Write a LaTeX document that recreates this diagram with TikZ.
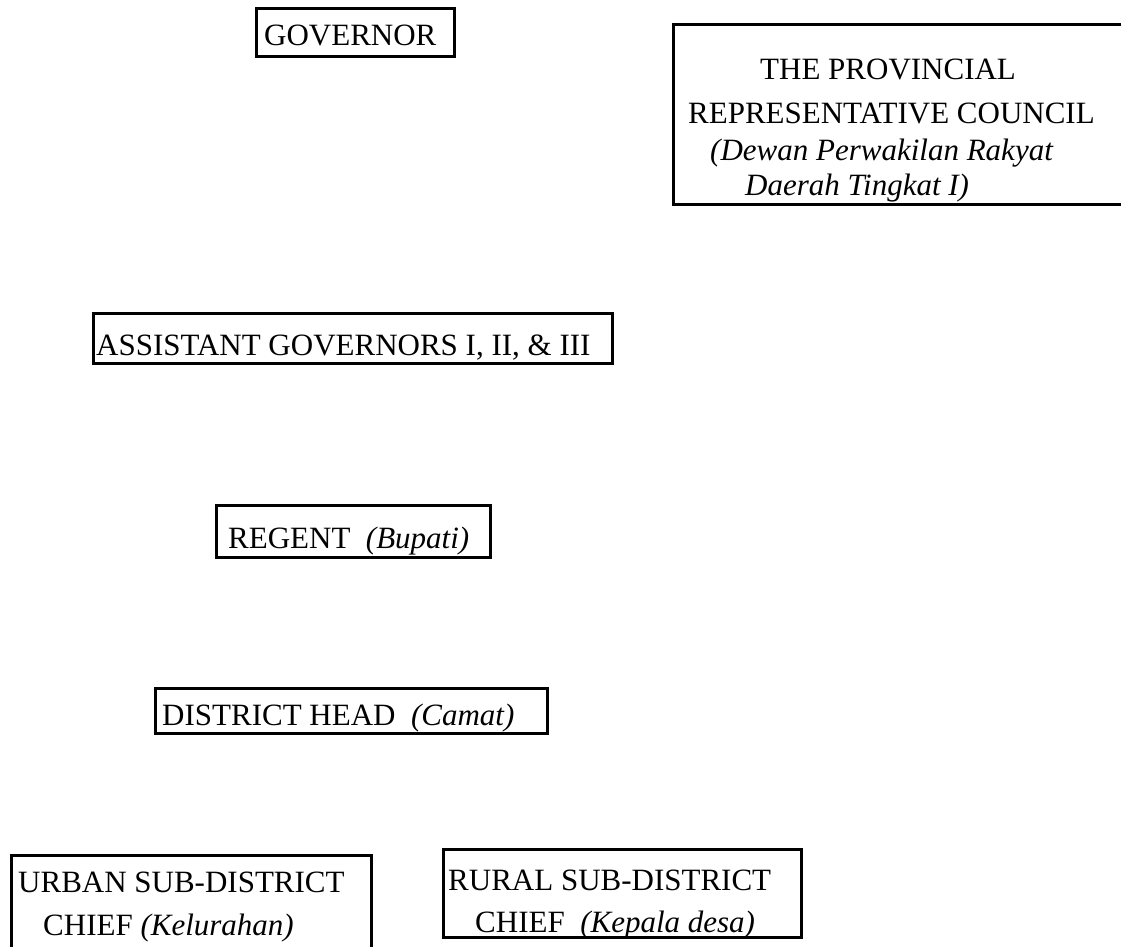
\documentclass[tikz,border=0pt]{standalone}
\usepackage{fontspec}
\setmainfont{Liberation Serif}
\begin{document}
\begin{tikzpicture}[x=1pt,y=-1pt,
  box/.style={draw=black, line width=3pt, rectangle, inner sep=0pt},
  txt/.style={anchor=base west, inner sep=0pt, font=\fontsize{31}{37}\selectfont}]
\useasboundingbox (0,0) rectangle (1121,947);
\clip (0,0) rectangle (1121,947);
% boxes
\node[box, minimum width=198pt, minimum height=48pt] (gov) at (355,33) {};
\node[box, minimum width=457pt, minimum height=179pt] (council) at (901.5,114.5) {};
\node[box, minimum width=519pt, minimum height=50pt] (asst) at (352.5,338) {};
\node[box, minimum width=274pt, minimum height=52pt] (regent) at (353,531) {};
\node[box, minimum width=392pt, minimum height=45pt] (district) at (351,710.5) {};
\node[box, minimum width=360pt, minimum height=105pt] (urban) at (191,907.5) {};
\node[box, minimum width=358pt, minimum height=88pt] (rural) at (622,893) {};
% texts
\node[txt] (govt) at (264,46) {GOVERNOR};
\node[txt] (c1) at (760,80) {THE PROVINCIAL};
\node[txt] (c2) at (688,124) {REPRESENTATIVE COUNCIL};
\node[txt] (c3) at (710,160) {\itshape (Dewan Perwakilan Rakyat};
\node[txt] (c4) at (745,195) {\itshape Daerah Tingkat I)};
\node[txt] (asstt) at (96,355) {ASSISTANT GOVERNORS I, II, \& III};
\node[txt] (regentt) at (228,548) {REGENT\ \ \textit{(Bupati)}};
\node[txt] (districtt) at (162,725) {DISTRICT HEAD\ \ \textit{(Camat)}};
\node[txt] (u1) at (18,892) {URBAN SUB-DISTRICT};
\node[txt] (u2) at (43,935) {CHIEF \textit{(Kelurahan)}};
\node[txt] (r1) at (448,890) {RURAL SUB-DISTRICT};
\node[txt] (r2) at (475,932) {CHIEF\ \ \textit{(Kepala desa)}};
\end{tikzpicture}
\end{document}
